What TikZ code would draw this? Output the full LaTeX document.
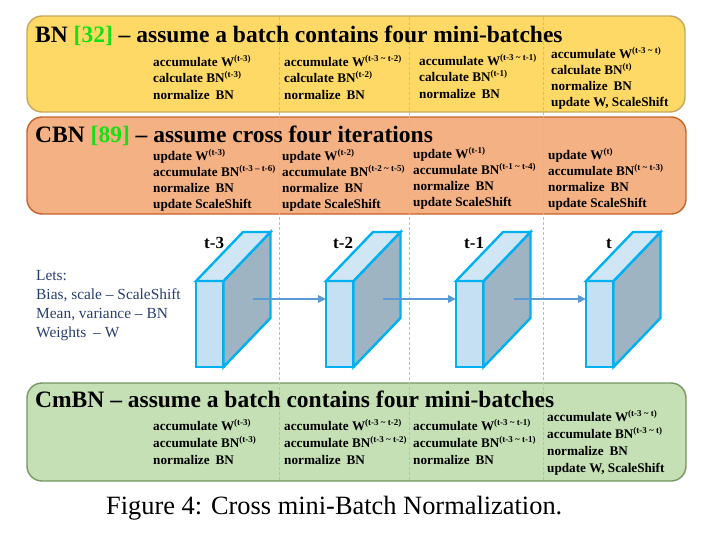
\documentclass[tikz,border=0pt]{standalone}
\usepackage{fontspec}
\setmainfont{Liberation Serif}
\usetikzlibrary{arrows.meta}
\definecolor{yfill}{RGB}{255,217,102}
\definecolor{ydraw}{RGB}{196,168,92}
\definecolor{ofill}{RGB}{244,177,131}
\definecolor{odraw}{RGB}{197,100,40}
\definecolor{gfill}{RGB}{197,224,180}
\definecolor{gdraw}{RGB}{118,150,98}
\definecolor{citegreen}{RGB}{20,225,20}
\definecolor{dashc}{RGB}{165,192,220}
\definecolor{edgec}{RGB}{0,176,240}
\definecolor{frontc}{RGB}{197,224,242}
\definecolor{topc}{RGB}{208,230,245}
\definecolor{sidec}{RGB}{158,180,195}
\definecolor{arrc}{RGB}{91,155,213}
\definecolor{leftc}{RGB}{40,62,112}
\newcommand\ssp[1]{\raisebox{4.6pt}{\fontsize{9}{9}\selectfont #1}}
\newcommand\nsp{\hspace{0.45em}}
\newcommand\tld{\ \textasciitilde\ }
\tikzset{
  panel/.style={rounded corners=15pt, line width=1.4pt, inner sep=0pt},
  ttl/.style={font=\fontsize{23.5}{28}\selectfont\bfseries, anchor=base west, inner sep=0pt},
  sub/.style={font=\fontsize{13.2}{16}\selectfont\bfseries, anchor=base west, inner sep=0pt},
  lefttxt/.style={font=\fontsize{15.4}{19}\selectfont, text=leftc, anchor=base west, inner sep=0pt},
  lbl/.style={font=\fontsize{17}{20}\selectfont\bfseries, anchor=base west, inner sep=0pt},
  front/.style={draw=edgec, fill=frontc, line width=2.4pt, minimum width=27.5pt, minimum height=86pt, inner sep=0pt, outer sep=0pt},
  face/.style={draw=edgec, line width=2.4pt, line join=miter},
  sep/.style={draw=dashc, line width=0.9pt, dash pattern=on 3pt off 2pt},
  arr/.style={draw=arrc, line width=2pt, -{Triangle[length=8pt,width=7.5pt]}}
}
\begin{document}
\begin{tikzpicture}[x=1pt,y=-1pt]
\useasboundingbox (0,0) rectangle (717,538);
% panels
\node[panel, fill=yfill, draw=ydraw, minimum width=658pt, minimum height=96pt] (bn) at (356,64) {};
\node[panel, fill=ofill, draw=odraw, minimum width=659pt, minimum height=97pt] (cbn) at (356.5,165.5) {};
\node[panel, fill=gfill, draw=gdraw, minimum width=659pt, minimum height=98pt] (cmbn) at (356.5,432) {};
% separators
\coordinate (s1t) at (279,17); \coordinate (s1b) at (279,481);
\coordinate (s2t) at (409,17); \coordinate (s2b) at (409,481);
\coordinate (s3t) at (543,17); \coordinate (s3b) at (543,481);
\draw[sep] (s1t) -- (s1b);
\draw[sep] (s2t) -- (s2b);
\draw[sep] (s3t) -- (s3b);
% titles
\node[ttl] (bnt) at (35,42) {BN \textcolor{citegreen}{[32]} – assume a batch contains four mini-batches};
\node[ttl] (cbnt) at (35,142) {CBN \textcolor{citegreen}{[89]} – assume cross four iterations};
\node[ttl] (cmbnt) at (35,407) {CmBN – assume a batch contains four mini-batches};
% BN columns
\foreach \t [count=\i] in {{accumulate W\ssp{(t-3)}},{calculate BN\ssp{(t-3)}},{normalize\nsp BN}}
  \node[sub] (bna\i) at (153,{66+16.5*(\i-1)}) {\t};
\foreach \t [count=\i] in {{accumulate W\ssp{(t-3\tld t-2)}},{calculate BN\ssp{(t-2)}},{normalize\nsp BN}}
  \node[sub] (bnb\i) at (284,{66+16.5*(\i-1)}) {\t};
\foreach \t [count=\i] in {{accumulate W\ssp{(t-3\tld t-1)}},{calculate BN\ssp{(t-1)}},{normalize\nsp BN}}
  \node[sub] (bnc\i) at (419,{65+16.5*(\i-1)}) {\t};
\foreach \t [count=\i] in {{accumulate W\ssp{(t-3\tld t)}},{calculate BN\ssp{(t)}},{normalize\nsp BN},{update W, ScaleShift}}
  \node[sub] (bnd\i) at (551,{58+16*(\i-1)}) {\t};
% CBN columns
\foreach \t [count=\i] in {{update W\ssp{(t-3)}},{accumulate BN\ssp{(t-3 – t-6)}},{normalize\nsp BN},{update ScaleShift}}
  \node[sub] (cba\i) at (153,{160+16*(\i-1)}) {\t};
\foreach \t [count=\i] in {{update W\ssp{(t-2)}},{accumulate BN\ssp{(t-2\tld t-5)}},{normalize\nsp BN},{update ScaleShift}}
  \node[sub] (cbb\i) at (282,{160+16*(\i-1)}) {\t};
\foreach \t [count=\i] in {{update W\ssp{(t-1)}},{accumulate BN\ssp{(t-1\tld t-4)}},{normalize\nsp BN},{update ScaleShift}}
  \node[sub] (cbc\i) at (413,{158+16*(\i-1)}) {\t};
\foreach \t [count=\i] in {{update W\ssp{(t)}},{accumulate BN\ssp{(t\tld t-3)}},{normalize\nsp BN},{update ScaleShift}}
  \node[sub] (cbd\i) at (548,{159+16.3*(\i-1)}) {\t};
% CmBN columns
\foreach \t [count=\i] in {{accumulate W\ssp{(t-3)}},{accumulate BN\ssp{(t-3)}},{normalize\nsp BN}}
  \node[sub] (cma\i) at (153,{430+17*(\i-1)}) {\t};
\foreach \t [count=\i] in {{accumulate W\ssp{(t-3\tld t-2)}},{accumulate BN\ssp{(t-3\tld t-2)}},{normalize\nsp BN}}
  \node[sub] (cmb\i) at (284,{430+17*(\i-1)}) {\t};
\foreach \t [count=\i] in {{accumulate W\ssp{(t-3\tld t-1)}},{accumulate BN\ssp{(t-3\tld t-1)}},{normalize\nsp BN}}
  \node[sub] (cmc\i) at (413,{430+17*(\i-1)}) {\t};
\foreach \t [count=\i] in {{accumulate W\ssp{(t-3\tld t)}},{accumulate BN\ssp{(t-3\tld t)}},{normalize\nsp BN},{update W, ScaleShift}}
  \node[sub] (cmd\i) at (547,{421+17*(\i-1)}) {\t};
% legend text
\node[lefttxt] (l1) at (36,280) {Lets:};
\node[lefttxt] (l2) at (36,299) {Bias, scale – ScaleShift};
\node[lefttxt] (l3) at (36,318) {Mean, variance – BN};
\node[lefttxt] (l4) at (36,337) {Weights\nsp– W};
% blocks
\foreach \k/\x in {1/196,2/326,3/456,4/586}{
  \node[front] (f\k) at ({\x+13.75},324) {};
  \draw[face, fill=sidec] (f\k.north east) -- ++(47,-49) -- ++(0,86) -- (f\k.south east) -- cycle;
  \draw[face, fill=topc] (f\k.north west) -- ++(47,-49) -- ++(27.5,0) -- (f\k.north east) -- cycle;
}
% labels
\node[lbl] (t3) at (204,248) {t-3};
\node[lbl] (t2) at (333,248) {t-2};
\node[lbl] (t1) at (464,248) {t-1};
\node[lbl] (t0) at (606,248) {t};
% arrows
\coordinate (a1) at (253,299);
\coordinate (a2) at (383,299);
\coordinate (a3) at (514,299);
\draw[arr] (a1) -- (a1 -| f2.west);
\draw[arr] (a2) -- (a2 -| f3.west);
\draw[arr] (a3) -- (a3 -| f4.west);
% caption
\node[anchor=base west, inner sep=0pt, font=\fontsize{26.4}{30}\selectfont] (cap) at (106,514) {Figure 4: Cross mini-Batch Normalization.};
\end{tikzpicture}
\end{document}
